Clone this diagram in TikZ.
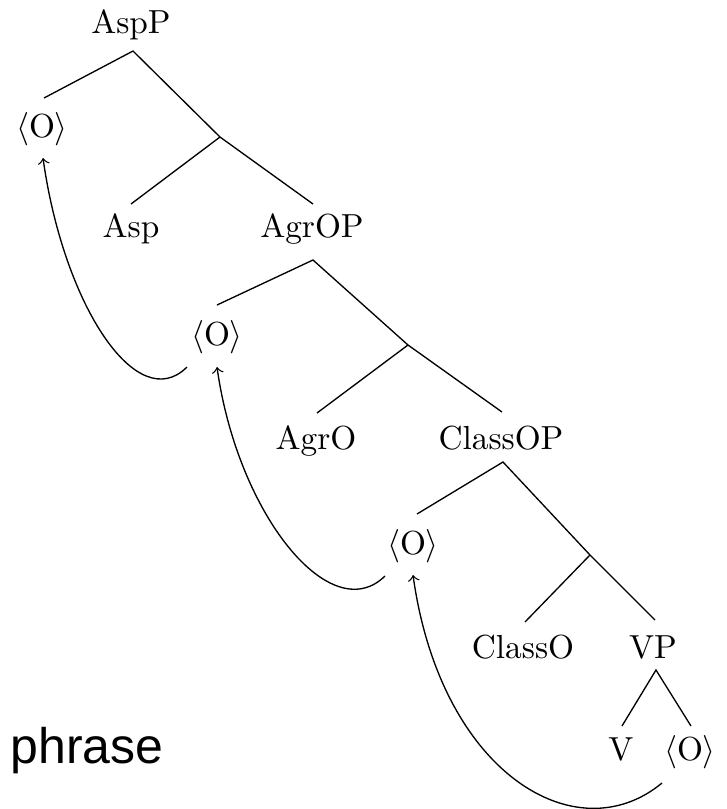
\documentclass[tikz,border=0pt]{standalone}
\usepackage{fontspec}
\newfontfamily\phrasefont{Liberation Sans}
\begin{document}
\begin{tikzpicture}[x=0.3pt,y=-0.3pt,
  lbl/.style={inner sep=0pt, anchor=base, font=\fontsize{10}{12}\selectfont},
  branch/.style={line width=0.4pt},
  mv/.style={->, line width=0.4pt}]
\useasboundingbox[fill=white] (0,0) rectangle (727,809);
% nodes
\node[lbl] (AspP) at (131,33) {AspP};
\node[lbl] (O1) at (42,137) {$\langle$O$\rangle$};
\node[lbl] (Asp) at (131,237) {Asp};
\node[lbl] (AgrOP) at (312,237) {AgrOP};
\node[lbl] (O2) at (217,345) {$\langle$O$\rangle$};
\node[lbl] (AgrO) at (316,449) {AgrO};
\node[lbl] (ClassOP) at (501,449) {ClassOP};
\node[lbl] (O3) at (413,554) {$\langle$O$\rangle$};
\node[lbl] (ClassO) at (523,658) {ClassO};
\node[lbl] (VP) at (653,658) {VP};
\node[lbl] (V) at (621,760) {V};
\node[lbl] (O4) at (690,760) {$\langle$O$\rangle$};
\node[inner sep=0pt, anchor=base west, font=\phrasefont\fontsize{15}{18}\selectfont] (phrase) at (10,763) {phrase};
% branch points
\coordinate (AspPb) at (133,51);
\coordinate (O1t) at (44,98);
\coordinate (j1) at (220,137);
\coordinate (Aspt) at (131,204);
\coordinate (AgrOPt) at (313,204);
\coordinate (AgrOPb) at (313,260);
\coordinate (O2t) at (217,305);
\coordinate (j2) at (408,345);
\coordinate (AgrOt) at (317,413);
\coordinate (ClassOPt) at (502,412);
\coordinate (ClassOPb) at (503,462);
\coordinate (O3t) at (417,514);
\coordinate (j3) at (590,555);
\coordinate (ClassOt) at (525,622);
\coordinate (VPt) at (655,620);
\coordinate (VPb) at (656,670);
\coordinate (Vt) at (622,726);
\coordinate (O4t) at (691,726);
% branches
\draw[branch] (O1t) -- (AspPb) -- (j1) -- (AgrOPt);
\draw[branch] (j1) -- (Aspt);
\draw[branch] (O2t) -- (AgrOPb) -- (j2) -- (ClassOPt);
\draw[branch] (j2) -- (AgrOt);
\draw[branch] (O3t) -- (ClassOPb) -- (j3) -- (VPt);
\draw[branch] (j3) -- (ClassOt);
\draw[branch] (Vt) -- (VPb) -- (O4t);
% movement arrows
\draw[mv] ([shift={(-30,22)}]O2.base) .. controls (137.5,416.5) and (64,306.5) .. ([shift={(1,21)}]O1.base);
\draw[mv] ([shift={(-28,22)}]O3.base) .. controls (331,629) and (238,515.5) .. ([shift={(0,22)}]O2.base);
\draw[mv] ([shift={(-28,23)}]O4.base) .. controls (576.7,853.7) and (441,774) .. ([shift={(0,21)}]O3.base);
\end{tikzpicture}
\end{document}
